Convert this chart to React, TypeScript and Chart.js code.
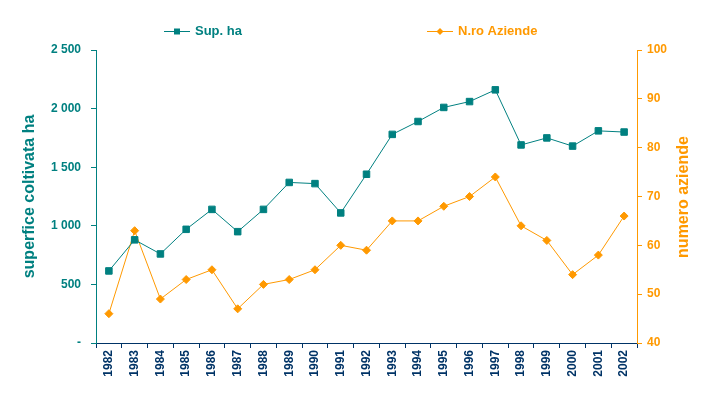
import React, { useEffect, useRef } from "react";
import { Chart, registerables } from "chart.js";

Chart.register(...registerables);

const years = ["1982","1983","1984","1985","1986","1987","1988","1989","1990","1991","1992","1993","1994","1995","1996","1997","1998","1999","2000","2001","2002"];
const supHa = [615, 880, 760, 970, 1140, 950, 1140, 1370, 1360, 1110, 1440, 1780, 1890, 2010, 2060, 2160, 1690, 1750, 1680, 1810, 1800];
const nroAziende = [46, 63, 49, 53, 55, 47, 52, 53, 55, 60, 59, 65, 65, 68, 70, 74, 64, 61, 54, 58, 66];
const seriesNames = ["Sup. ha", "N.ro Aziende"];
const leftTitle = "superfice coltivata ha";
const rightTitle = "numero aziende";

const TEAL = "#008080";
const ORANGE = "#FF9900";
const NAVY = "#003366";
const FONT = "Arial, 'Liberation Sans', sans-serif";

function fmt(v: number): string {
  if (v === 0) return "-";
  const s = Math.round(v).toString();
  return s.replace(/\B(?=(\d{3})+(?!\d))/g, " ");
}

const legendPlugin = {
  id: "customLegend",
  afterDraw(chart: any) {
    const ctx = chart.ctx;
    const items = [
      { x: 164, color: TEAL, style: "rect", text: seriesNames[0] },
      { x: 427, color: ORANGE, style: "diamond", text: seriesNames[1] },
    ];
    const y = 31;
    ctx.save();
    items.forEach((it) => {
      ctx.strokeStyle = it.color;
      ctx.fillStyle = it.color;
      ctx.lineWidth = 1;
      ctx.beginPath();
      ctx.moveTo(it.x, y + 0.5);
      ctx.lineTo(it.x + 26, y + 0.5);
      ctx.stroke();
      const cx = it.x + 13;
      ctx.beginPath();
      if (it.style === "rect") {
        ctx.rect(cx - 3, y - 2.5, 6, 6);
      } else {
        ctx.moveTo(cx, y - 3);
        ctx.lineTo(cx + 3.5, y + 0.5);
        ctx.lineTo(cx, y + 4);
        ctx.lineTo(cx - 3.5, y + 0.5);
        ctx.closePath();
      }
      ctx.fill();
      ctx.font = `bold 13px ${FONT}`;
      ctx.textBaseline = "middle";
      ctx.textAlign = "left";
      ctx.fillText(it.text, it.x + 31, y + 0.5);
    });
    // right axis title, reading bottom to top
    const area = chart.chartArea;
    ctx.translate(684, (area.top + area.bottom) / 2 + 0.5);
    ctx.rotate(-Math.PI / 2);
    ctx.fillStyle = ORANGE;
    ctx.font = `bold 16px ${FONT}`;
    ctx.textAlign = "center";
    ctx.textBaseline = "middle";
    ctx.fillText(rightTitle, 0, 0);
    ctx.restore();
  },
};

export default function App() {
  const ref = useRef<HTMLCanvasElement | null>(null);
  useEffect(() => {
    if (!ref.current) return;
    const chart = new Chart(ref.current, {
      type: "line",
      data: {
        labels: years,
        datasets: [
          {
            label: seriesNames[0],
            data: supHa,
            yAxisID: "y",
            borderColor: TEAL,
            backgroundColor: TEAL,
            borderWidth: 1,
            pointStyle: "rect",
            pointRadius: 4.6,
            pointHoverRadius: 4.6,
            tension: 0,
          },
          {
            label: seriesNames[1],
            data: nroAziende,
            yAxisID: "y1",
            borderColor: ORANGE,
            backgroundColor: ORANGE,
            borderWidth: 1,
            pointStyle: "rectRot",
            pointRadius: 4,
            pointHoverRadius: 4,
            tension: 0,
          },
        ],
      },
      options: {
        animation: false,
        responsive: false,
        maintainAspectRatio: false,
        layout: { padding: { top: 50, left: 0, right: 0, bottom: 0 } },
        plugins: { legend: { display: false }, tooltip: { enabled: false } },
        scales: {
          x: {
            offset: true,
            grid: { offset: true, drawOnChartArea: false, drawTicks: true, tickLength: 5, color: NAVY },
            border: { color: NAVY, width: 1 },
            ticks: {
              color: NAVY,
              font: { family: FONT, size: 12, weight: "bold" },
              maxRotation: 90,
              minRotation: 90,
              autoSkip: false,
              padding: 2,
            },
            afterFit(scale: any) { scale.height = 55; },
          },
          y: {
            position: "left",
            min: 0,
            max: 2500,
            grid: { drawOnChartArea: false, tickLength: 5, color: TEAL },
            border: { color: TEAL, width: 1 },
            ticks: {
              stepSize: 500,
              color: TEAL,
              font: { family: FONT, size: 12, weight: "bold" },
              padding: 10,
              callback: (v: any) => fmt(Number(v)),
            },
            title: {
              display: true,
              text: leftTitle,
              color: TEAL,
              font: { family: FONT, size: 16, weight: "bold" },
              padding: { top: 20, bottom: 8 },
            },
            afterFit(scale: any) { scale.width = 96; },
          },
          y1: {
            position: "right",
            min: 40,
            max: 100,
            grid: { drawOnChartArea: false, tickLength: 5, color: ORANGE },
            border: { color: ORANGE, width: 1 },
            ticks: {
              stepSize: 10,
              color: ORANGE,
              font: { family: FONT, size: 12, weight: "bold" },
              padding: 5,
            },
            afterFit(scale: any) { scale.width = 78; },
          },
        },
      },
      plugins: [legendPlugin],
    } as any);
    return () => chart.destroy();
  }, []);
  return (
    <div style={{ position: "fixed", left: 0, top: 0, width: 715, height: 398, background: "#fff" }}>
      <canvas ref={ref} width={715} height={398} style={{ width: 715, height: 398 }} />
    </div>
  );
}
